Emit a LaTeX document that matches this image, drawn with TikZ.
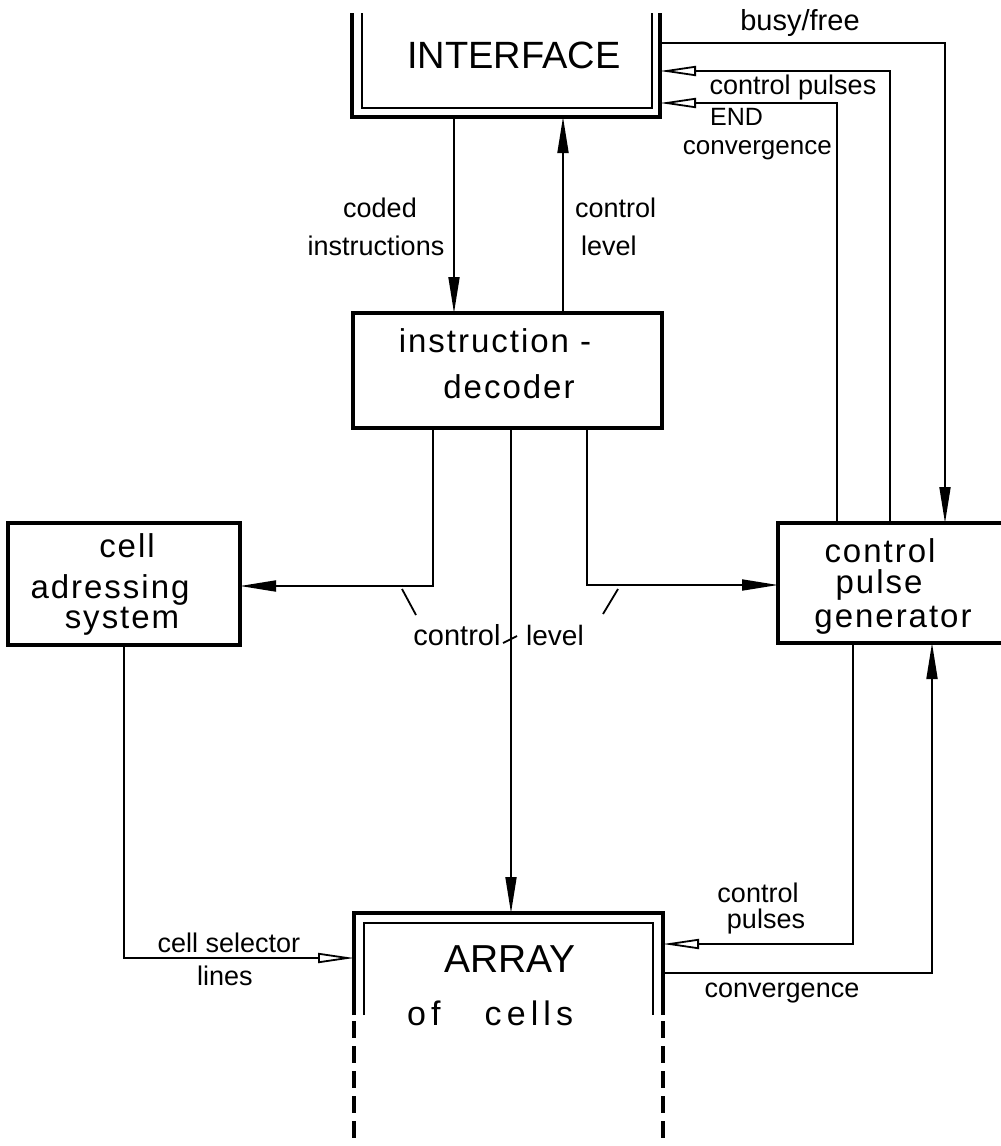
\documentclass[tikz,border=0pt]{standalone}
\usepackage{fontspec}
\setmainfont{Liberation Sans}
\newfontfamily\boxfont[LetterSpace=6]{Liberation Sans}
\newfontfamily\widefont[LetterSpace=15]{Liberation Sans}
\usetikzlibrary{arrows.meta}
\tikzset{
  conn/.style={line width=1.8pt},
  fa/.style={-{Triangle[length=36pt,width=11pt]}},
  ha/.style={-{Triangle[open,length=36pt,width=10pt]}},
  hold/.style={draw=none,inner sep=0pt,outer sep=0pt},
  blk/.style={draw,line width=3.5pt,inner sep=0pt,outer sep=0pt},
  slbl/.style={font=\fontsize{27}{30}\selectfont,inner sep=0pt},
  blbl/.style={font=\boxfont\fontsize{33}{36}\selectfont,inner sep=0pt},
  captxt/.style={font=\fontsize{38}{40}\selectfont,inner sep=0pt},
  thickline/.style={line width=3.5pt},
  thinline/.style={line width=2pt}
}
\begin{document}
\begin{tikzpicture}[x=1pt,y=-1pt]
\useasboundingbox (0,0) rectangle (1001,1146);
\clip (0,0) rectangle (1001,1146);
\fill[white] (0,0) rectangle (1001,1146);

% boxes
\node[hold,minimum width=308pt,minimum height=104pt] (iface) at (506,65) {};
\node[blk,minimum width=309pt,minimum height=115pt] (dec) at (507.5,370.5) {};
\node[blk,minimum width=232pt,minimum height=122pt] (cas) at (124,584) {};
\node[blk,minimum width=234pt,minimum height=120pt] (cpg) at (895,583) {};
\node[hold,minimum width=309pt,minimum height=240pt] (arr) at (508.5,1033) {};

% interface frame (open top, double line)
\draw[thickline] (iface.north west) -- (iface.south west) -- (iface.south east) -- (iface.north east);
\draw[thinline] ([xshift=10pt]iface.north west) |- ([xshift=-8pt,yshift=9pt]iface.south east) -- ([xshift=-8pt]iface.north east);

% array frame (double line, dashed continuation)
\draw[thickline] ([yshift=-102pt]arr.north west) -- (arr.north west) -- (arr.north east) -- ([yshift=-102pt]arr.north east);
\draw[thinline] ([xshift=10pt,yshift=-102pt]arr.north west) -- ([xshift=10pt,yshift=-10pt]arr.north west) -- ([xshift=-10pt,yshift=-10pt]arr.north east) -- ([xshift=-10pt,yshift=-102pt]arr.north east);
\draw[thickline,dash pattern=on 17pt off 8pt] ([yshift=-108pt]arr.north west) -- (arr.south west);
\draw[thickline,dash pattern=on 17pt off 8pt] ([yshift=-108pt]arr.north east) -- (arr.south east);

% box texts
\node[captxt,anchor=base] (tif) at (514,68) {INTERFACE};
\node[blbl,anchor=base] (tdec1) at (495,352) {instruction -};
\node[blbl,anchor=base] (tdec2) at (509,398) {decoder};
\node[blbl,anchor=base] (tcas1) at (127,557) {cell};
\node[blbl,anchor=base] (tcas2) at (110,598) {adressing};
\node[blbl,anchor=base] (tcas3) at (122,628) {system};
\node[blbl,anchor=base] (tcpg1) at (880,562) {control};
\node[blbl,anchor=base] (tcpg2) at (879,593) {pulse};
\node[blbl,anchor=base] (tcpg3) at (893,627) {generator};
\node[captxt,font=\fontsize{39}{40}\selectfont,anchor=base] (tarr1) at (510,972) {ARRAY};
\node[inner sep=0pt,font=\widefont\fontsize{34}{36}\selectfont,anchor=base west] (tarr2) at (407,1025) {of\hspace{44pt}cells};

% helper coordinates
\coordinate (xcod) at (454,0);
\coordinate (xcl) at (563,0);
\coordinate (bf) at (945,43);
\coordinate (cp) at (890,71);
\coordinate (en) at (837,103);
\coordinate (dl) at (433,586);
\coordinate (dr) at (587,585);
\coordinate (dm) at (511,0);
\coordinate (cs) at (124,958);
\coordinate (pc) at (853,944);
\coordinate (cv) at (932,973);

% connectors
\draw[conn,fa] (iface.south -| xcod) -- (dec.north -| xcod);
\draw[conn,fa] (dec.north -| xcl) -- (iface.south -| xcl);
\draw[conn,fa] (iface.east |- bf) -- (bf) -- (cpg.north -| bf);
\draw[conn,ha] (cpg.north -| cp) -- (cp) -- (iface.east |- cp);
\draw[conn,ha] (cpg.north -| en) -- (en) -- (iface.east |- en);
\draw[conn,fa] (dec.south -| dl) -- (dl) -- (cas.east |- dl);
\draw[conn,fa] (dec.south -| dr) -- (dr) -- (cpg.west |- dr);
\draw[conn,fa] (dec.south -| dm) -- (arr.north -| dm);
\draw[conn,ha] (cas.south) -- (cs) -- (arr.west |- cs);
\draw[conn,ha] (cpg.south -| pc) -- (pc) -- (arr.east |- pc);
\draw[conn,fa] (arr.east |- cv) -- (cv) -- (cpg.south -| cv);

% bundle ticks
\draw[conn] (402,589) -- (416,615);
\draw[conn] (618,589) -- (603,614);
\draw[conn] (503,643) -- (517,636);

% connector labels
\node[slbl,font=\fontsize{29}{30}\selectfont,anchor=base] (lbf) at (800,30) {busy/free};
\node[slbl,anchor=base] (lcp) at (793,94) {control pulses};
\node[slbl,font=\fontsize{25}{28}\selectfont,anchor=base west] (lend) at (710,125) {END};
\node[slbl,font=\fontsize{26}{28}\selectfont,anchor=base east] (lconv) at (832,154) {convergence};
\node[slbl,anchor=base] (lcod) at (380,217) {coded};
\node[slbl,anchor=base] (lins) at (376,255) {instructions};
\node[slbl,anchor=base west] (lctl) at (575,217) {control};
\node[slbl,anchor=base west] (llev) at (581,255) {level};
\node[slbl,font=\fontsize{29}{30}\selectfont,anchor=base] (lmc) at (457,645) {control};
\node[slbl,font=\fontsize{28}{30}\selectfont,anchor=base] (lml) at (555,645) {level};
\node[slbl,anchor=base] (lcs1) at (229,952) {cell selector};
\node[slbl,anchor=base] (lcs2) at (225,985) {lines};
\node[slbl,anchor=base] (lbp1) at (758,902) {control};
\node[slbl,anchor=base] (lbp2) at (766,928) {pulses};
\node[slbl,anchor=base] (lbcv) at (782,997) {convergence};
\end{tikzpicture}
\end{document}
